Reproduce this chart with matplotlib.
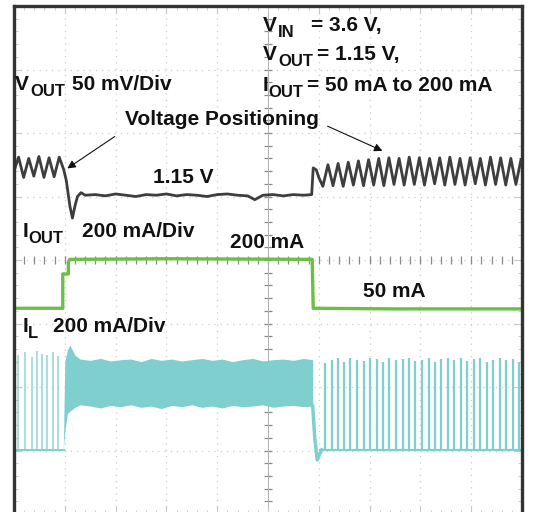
import numpy as np
import matplotlib
matplotlib.use("Agg")
import matplotlib.pyplot as plt

plt.rcParams['font.family'] = ['Liberation Sans', 'DejaVu Sans']
plt.rcParams['font.weight'] = 'bold'

# scope screen: 10 x 8 divisions, values read in divisions from the screenshot

# V_OUT trace (black)
vout_x = [0.00, 0.09, 0.19, 0.29, 0.39, 0.49, 0.59, 0.69, 0.79, 0.89, 0.98,
          1.03, 1.10, 1.15, 1.20, 1.25, 1.32, 1.40,
          1.60, 1.80, 2.00, 2.20, 2.40, 2.60, 2.80, 3.00, 3.20, 3.40, 3.60,
          3.80, 4.00, 4.20, 4.40, 4.60, 4.74, 4.90, 5.10, 5.30, 5.50, 5.70, 5.86,
          5.89, 5.95, 6.00,
          6.08, 6.18, 6.28, 6.38, 6.48, 6.58, 6.68, 6.78, 6.88, 6.98,
          7.08, 7.18, 7.28, 7.38, 7.48, 7.58, 7.68, 7.78, 7.88, 7.98,
          8.08, 8.18, 8.28, 8.38, 8.48, 8.58, 8.68, 8.78, 8.88, 8.98,
          9.08, 9.18, 9.28, 9.38, 9.48, 9.58, 9.68, 9.78, 9.88, 9.98]
vout_y = [5.40, 5.62, 5.30, 5.60, 5.32, 5.63, 5.30, 5.61, 5.31, 5.62, 5.42,
          5.25, 4.85, 4.66, 4.85, 5.00, 5.06, 5.02,
          5.03, 5.01, 5.04, 5.02, 5.00, 5.03, 5.02, 5.04, 5.01, 5.03, 5.02,
          5.00, 5.03, 5.04, 5.02, 5.01, 4.95, 5.02, 5.03, 5.01, 5.03, 5.02, 5.03,
          5.45, 5.42, 5.30,
          5.16, 5.50, 5.17, 5.52, 5.16, 5.54, 5.18, 5.56, 5.17, 5.58,
          5.18, 5.60, 5.17, 5.61, 5.19, 5.60, 5.18, 5.62, 5.19, 5.61,
          5.18, 5.60, 5.20, 5.61, 5.18, 5.62, 5.19, 5.60, 5.18, 5.61,
          5.20, 5.60, 5.18, 5.62, 5.19, 5.61, 5.18, 5.60, 5.19, 5.58]

# I_OUT trace (green)
iout_x = [0.00, 0.96, 0.96, 1.07, 1.07, 1.10, 3.00, 5.87, 5.89, 7.50, 10.00]
iout_y = [3.24, 3.24, 3.78, 3.78, 3.97, 4.01, 4.02, 4.01, 3.24, 3.23, 3.23]

# I_L trace (cyan): light-load pulses and heavy-load band
il_base = 1.01
il_left_pulse_x = [0.08, 0.22, 0.35, 0.45, 0.55, 0.65, 0.77, 0.87]
il_left_pulse_y = [2.50, 2.55, 2.48, 2.56, 2.52, 2.50, 2.55, 2.49]
il_right_pulse_x = [6.12, 6.25, 6.37, 6.50, 6.62, 6.76, 6.88, 7.01, 7.14, 7.27,
                    7.39, 7.52, 7.65, 7.78, 7.90, 8.03, 8.16, 8.29, 8.41, 8.54,
                    8.67, 8.80, 8.92, 9.05, 9.18, 9.31, 9.43, 9.56, 9.69, 9.82, 9.95]
il_right_pulse_y = [2.38, 2.42, 2.45, 2.40, 2.46, 2.43, 2.41, 2.45, 2.44, 2.40,
                    2.46, 2.42, 2.44, 2.45, 2.41, 2.43, 2.46, 2.40, 2.44, 2.45,
                    2.42, 2.46, 2.41, 2.44, 2.45, 2.40, 2.43, 2.46, 2.42, 2.44, 2.40]
il_band_x = [0.97, 1.00, 1.05, 1.10, 1.20, 1.30, 1.50, 1.70, 1.90, 2.10, 2.30,
             2.50, 2.70, 2.90, 3.10, 3.30, 3.50, 3.70, 3.90, 4.10, 4.30, 4.50,
             4.70, 4.90, 5.10, 5.30, 5.50, 5.70, 5.88]
il_band_hi = [1.01, 2.40, 2.58, 2.66, 2.50, 2.44, 2.42, 2.45, 2.41, 2.43, 2.44,
              2.40, 2.45, 2.42, 2.44, 2.41, 2.43, 2.45, 2.42, 2.44, 2.40, 2.43,
              2.45, 2.41, 2.43, 2.44, 2.42, 2.45, 2.43]
il_band_lo = [1.01, 1.30, 1.58, 1.62, 1.68, 1.72, 1.70, 1.67, 1.71, 1.69, 1.72,
              1.68, 1.70, 1.66, 1.71, 1.69, 1.72, 1.68, 1.70, 1.67, 1.71, 1.69,
              1.70, 1.72, 1.68, 1.70, 1.71, 1.69, 1.70]
il_fall_x = [5.88, 5.92, 5.97, 6.02, 6.06]
il_fall_y = [1.70, 1.20, 0.85, 0.95, 1.01]

black = '#1c1c1c'
green = '#6cbf45'
cyan = '#7fcfcf'

fig = plt.figure(figsize=(5.33, 5.12), dpi=100)
ax = fig.add_axes([14 / 533, -2 / 512, 508 / 533, 508 / 512])
ax.set_xlim(0, 10)
ax.set_ylim(0, 8)

# graticule
for gx in range(1, 10):
    ax.axvline(gx, color='#cccccc', lw=0.9, ls=(0, (1, 4)), zorder=0)
for gy in range(1, 8):
    ax.axhline(gy, color='#cccccc', lw=0.9, ls=(0, (1, 4)), zorder=0)
ticks = np.arange(0, 10.01, 0.2)
ax.plot(ticks, np.full(ticks.size, 4.0), ls='none', marker='|', ms=6,
        mew=0.9, color='#8a8a8a', zorder=0)
vticks = np.arange(0, 8.01, 0.2)
ax.plot(np.full(vticks.size, 5.0), vticks, ls='none', marker='_', ms=6,
        mew=0.9, color='#8a8a8a', zorder=0)
ax.axvline(5, color='#b0b0b0', lw=0.7, zorder=0)

ax.set_xticks(range(11))
ax.set_yticks(range(9))
ax.set_xticks(ticks, minor=True)
ax.set_yticks(vticks, minor=True)
ax.tick_params(which='both', direction='in', top=True, right=True,
               labelbottom=False, labelleft=False, color='#c8c8c8')
ax.tick_params(which='major', length=6)
ax.tick_params(which='minor', length=3)
for s in ax.spines.values():
    s.set_linewidth(2.4)
    s.set_color('#333333')

# traces
ax.plot([0, 0.98], [il_base, il_base], color=cyan, lw=1.4)
ax.vlines(il_left_pulse_x, il_base, il_left_pulse_y, color=cyan, lw=1.2, alpha=0.8)
ax.fill_between(il_band_x, il_band_lo, il_band_hi, color=cyan, lw=0)
ax.plot(il_fall_x, il_fall_y, color=cyan, lw=2.5)
ax.plot([6.02, 10], [il_base, il_base], color=cyan, lw=1.6)
ax.vlines(il_right_pulse_x, il_base, il_right_pulse_y, color=cyan, lw=1.6)

ax.plot(iout_x, iout_y, color=green, lw=2.4)
ax.plot(vout_x, vout_y, color=black, lw=2.0, alpha=0.85)


def P(px, py):
    return (px - 14) / 50.8, (514 - py) / 63.5


fs = 15
sub_fs = 12
# (x, baseline y) in screen pixels, text, subscript flag
labels = [
    (263, 31, 'V', False), (278, 37, 'IN', True), (311, 31, '= 3.6 V,', False),
    (263, 60, 'V', False), (278, 66, 'OUT', True), (317, 60, '= 1.15 V,', False),
    (263, 91, 'I', False), (268, 97, 'OUT', True), (307, 91, '= 50 mA to 200 mA', False),
    (15, 90, 'V', False), (30, 96, 'OUT', True), (72, 90, '50 mV/Div', False),
    (125, 125, 'Voltage Positioning', False),
    (153, 183, '1.15 V', False),
    (23, 237, 'I', False), (28, 243, 'OUT', True), (82, 237, '200 mA/Div', False),
    (230, 248, '200 mA', False),
    (363, 297, '50 mA', False),
    (23, 332, 'I', False), (28, 338, 'L', True), (53, 332, '200 mA/Div', False),
]
for px, py, s, sub in labels:
    x, y = P(px, py)
    ax.text(x, y, s, fontsize=sub_fs if sub else fs, fontweight='bold',
            ha='left', va='baseline', color='#111111')

arrow = dict(arrowstyle='-|>', color='#111111', lw=0.8, mutation_scale=12)
ax.annotate('', xy=P(65, 170), xytext=P(117, 135), arrowprops=arrow)
ax.annotate('', xy=P(385, 152), xytext=P(325, 125), arrowprops=arrow)

fig.savefig('out.png', dpi=100)
